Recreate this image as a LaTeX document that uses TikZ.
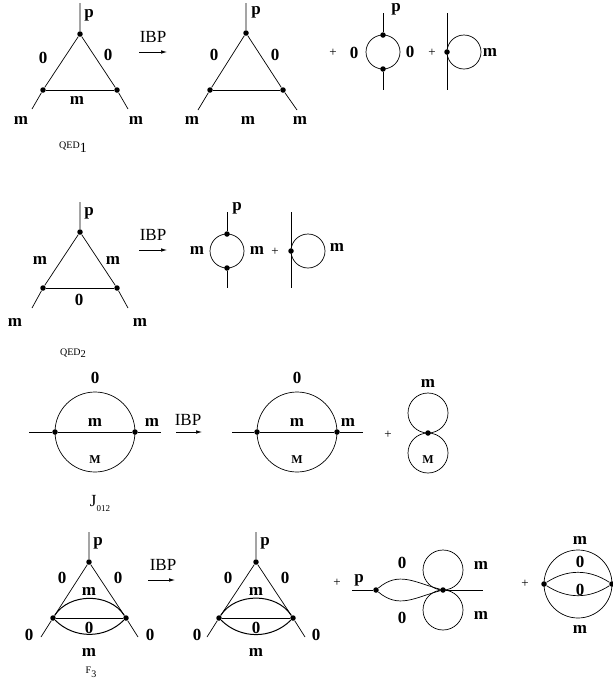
\documentclass[tikz,border=0pt]{standalone}
\usepackage{fontspec}
\setmainfont{Liberation Serif}
\usepackage{tikz}
\usetikzlibrary{arrows.meta}

\begin{document}
\begin{tikzpicture}[x=1pt,y=1pt,line width=0.7pt,
  dot/.style={circle,fill,inner sep=0pt,minimum size=5.5pt},
  lbl/.style={inner sep=0pt,font=\fontsize{17}{19}\selectfont\bfseries},
  smallM/.style={inner sep=0pt,font=\fontsize{12}{14}\selectfont\bfseries},
  txt/.style={inner sep=0pt,font=\fontsize{17}{19}\selectfont},
  pl/.style={inner sep=0pt,font=\fontsize{13}{15}\selectfont},
  ibp/.style={-{Latex[length=6pt,width=3.5pt]},line width=0.6pt}]
\useasboundingbox (0,0) rectangle (613,-686);

% QED_1
\coordinate (a1p) at (80,-3);
\node[dot] (a1t) at (80,-34) {};
\node[dot] (a1l) at (43,-90) {};
\node[dot] (a1r) at (117,-90) {};
\coordinate (a1ll) at (32,-109);
\coordinate (a1rr) at (128,-109);
\draw (a1p) -- (a1t) -- (a1l) -- (a1ll);
\draw (a1t) -- (a1r) -- (a1rr);
\draw (a1l) -- (a1r);
\node[lbl] (a1lp) at (89,-15) {p};
\node[lbl] (a1la) at (43,-58) {0};
\node[lbl] (a1lb) at (108,-55) {0};
\node[lbl] (a1lc) at (77,-100) {m};
\node[lbl] (a1ld) at (21,-120) {m};
\node[lbl] (a1le) at (136,-120) {m};
\node[inner sep=0pt] (q1) at (73,-147) {{\fontsize{10}{12}\selectfont QED}\raisebox{-4pt}{\fontsize{14}{16}\selectfont 1}};

\node[txt] (i1) at (153,-37) {IBP};
\coordinate (i1a) at (139,-52);
\coordinate (i1b) at (167,-52);
\draw[ibp] (i1a) -- (i1b);

\coordinate (b1p) at (246,-3);
\node[dot] (b1t) at (246,-33) {};
\node[dot] (b1l) at (210,-90) {};
\node[dot] (b1r) at (283,-90) {};
\coordinate (b1ll) at (198,-110);
\coordinate (b1rr) at (297,-110);
\draw (b1p) -- (b1t) -- (b1l) -- (b1ll);
\draw (b1t) -- (b1r) -- (b1rr);
\draw (b1l) -- (b1r);
\node[lbl] (b1lp) at (256,-12) {p};
\node[lbl] (b1la) at (214,-55) {0};
\node[lbl] (b1lb) at (275,-55) {0};
\node[lbl] (b1lc) at (192,-120) {m};
\node[lbl] (b1ld) at (248,-120) {m};
\node[lbl] (b1le) at (300,-120) {m};

\node[pl] (s1) at (333,-53) {+};
\node[lbl] (c1la) at (354,-53) {0};
\coordinate (c1c) at (383,-52);
\draw (c1c) circle[radius=17pt];
\coordinate (c1p) at (383,-13);
\coordinate (c1q) at (383,-90);
\node[dot] (c1t) at (383,-35) {};
\node[dot] (c1b) at (383,-69) {};
\draw (c1p) -- (c1t);
\draw (c1b) -- (c1q);
\node[lbl] (c1lp) at (396,-9) {p};
\node[lbl] (c1lb) at (410,-52) {0};
\node[pl] (s2) at (432,-53) {+};
\coordinate (d1p) at (447,-13);
\coordinate (d1q) at (447,-90);
\node[dot] (d1v) at (447,-52) {};
\draw (d1p) -- (d1v) -- (d1q);
\coordinate (d1c) at (464,-52);
\draw (d1c) circle[radius=17pt];
\node[lbl] (d1lm) at (490,-52) {m};

% QED_2
\coordinate (a2p) at (80,-202);
\node[dot] (a2t) at (80,-232) {};
\node[dot] (a2l) at (43,-288) {};
\node[dot] (a2r) at (117,-288) {};
\coordinate (a2ll) at (32,-308);
\coordinate (a2rr) at (128,-308);
\draw (a2p) -- (a2t) -- (a2l) -- (a2ll);
\draw (a2t) -- (a2r) -- (a2rr);
\draw (a2l) -- (a2r);
\node[lbl] (a2lp) at (89,-213) {p};
\node[lbl] (a2la) at (40,-260) {m};
\node[lbl] (a2lb) at (113,-260) {m};
\node[lbl] (a2lc) at (79,-300) {0};
\node[lbl] (a2ld) at (15,-322) {m};
\node[lbl] (a2le) at (140,-322) {m};
\node[inner sep=0pt] (q2) at (73,-353) {{\fontsize{10}{12}\selectfont QED}\raisebox{-1.5pt}{\fontsize{10.5}{12}\selectfont 2}};

\node[txt] (i2) at (153,-235) {IBP};
\coordinate (i2a) at (139,-250);
\coordinate (i2b) at (167,-250);
\draw[ibp] (i2a) -- (i2b);

\node[lbl] (c2la) at (197,-250) {m};
\coordinate (c2c) at (227,-251);
\draw (c2c) circle[radius=17pt];
\coordinate (c2p) at (227,-212);
\coordinate (c2q) at (227,-288);
\node[dot] (c2t) at (227,-234) {};
\node[dot] (c2b) at (227,-268) {};
\draw (c2p) -- (c2t);
\draw (c2b) -- (c2q);
\node[lbl] (c2lp) at (237,-208) {p};
\node[lbl] (c2lb) at (257,-250) {m};
\node[pl] (s3) at (275,-252) {+};
\coordinate (d2p) at (291,-212);
\coordinate (d2q) at (291,-288);
\node[dot] (d2v) at (291,-251) {};
\draw (d2p) -- (d2v) -- (d2q);
\coordinate (d2c) at (308,-251);
\draw (d2c) circle[radius=17pt];
\node[lbl] (d2lm) at (337,-247) {m};

% J_012
\coordinate (a3c) at (95,-432);
\draw (a3c) circle[radius=40pt];
\coordinate (a3a) at (29,-432);
\coordinate (a3b) at (161,-432);
\node[dot] (a3l) at (55,-432) {};
\node[dot] (a3r) at (135,-432) {};
\draw (a3a) -- (a3l) -- (a3r) -- (a3b);
\node[lbl] (a3la) at (95,-378) {0};
\node[lbl] (a3lb) at (95,-422) {m};
\node[smallM] (a3lc) at (95,-460) {M};
\node[lbl] (a3ld) at (152,-422) {m};
\node[inner sep=0pt] (j3) at (100,-503) {{\fontsize{17}{19}\selectfont J}\raisebox{-5pt}{\fontsize{9}{11}\selectfont 012}};

\node[txt] (i3) at (188,-420) {IBP};
\coordinate (i3a) at (176,-432);
\coordinate (i3b) at (202,-432);
\draw[ibp] (i3a) -- (i3b);

\coordinate (b3c) at (297,-432);
\draw (b3c) circle[radius=40pt];
\coordinate (b3a) at (232,-432);
\coordinate (b3b) at (363,-432);
\node[dot] (b3l) at (257,-432) {};
\node[dot] (b3r) at (337,-432) {};
\draw (b3a) -- (b3l) -- (b3r) -- (b3b);
\node[lbl] (b3la) at (297,-378) {0};
\node[lbl] (b3lb) at (297,-422) {m};
\node[smallM] (b3lc) at (297,-460) {M};
\node[lbl] (b3ld) at (348,-422) {m};

\node[pl] (s4) at (388,-435) {+};
\coordinate (c3u) at (428,-413);
\coordinate (c3d) at (428,-453);
\draw (c3u) circle[radius=20pt];
\draw (c3d) circle[radius=20pt];
\node[dot] (c3v) at (428,-433) {};
\node[lbl] (c3la) at (428,-383) {m};
\node[smallM] (c3lb) at (428,-460) {M};

% F_3
\coordinate (a4p) at (89,-532);
\node[dot] (a4t) at (89,-562) {};
\node[dot] (a4l) at (53,-618) {};
\node[dot] (a4r) at (126,-618) {};
\coordinate (a4ll) at (41,-637);
\coordinate (a4rr) at (138,-637);
\draw (a4p) -- (a4t) -- (a4l) -- (a4ll);
\draw (a4t) -- (a4r) -- (a4rr);
\draw (a4l) -- (a4r);
\draw[line width=1pt] (a4l) to[bend left=57] (a4r);
\draw[line width=1pt] (a4l) to[bend right=45] (a4r);
\node[lbl] (a4lp) at (98,-543) {p};
\node[lbl] (a4la) at (62,-578) {0};
\node[lbl] (a4lb) at (118,-578) {0};
\node[lbl] (a4lc) at (89,-591) {m};
\node[lbl] (a4ld) at (89,-628) {0};
\node[lbl] (a4le) at (89,-652) {m};
\node[lbl] (a4lf) at (29,-635) {0};
\node[lbl] (a4lg) at (150,-635) {0};
\node[inner sep=0pt] (f3) at (91,-672) {{\fontsize{10}{12}\selectfont F}\raisebox{-4pt}{\fontsize{10}{12}\selectfont 3}};

\node[txt] (i4) at (163,-565) {IBP};
\coordinate (i4a) at (148,-580);
\coordinate (i4b) at (175,-580);
\draw[ibp] (i4a) -- (i4b);

\coordinate (b4p) at (256,-532);
\node[dot] (b4t) at (256,-562) {};
\node[dot] (b4l) at (219,-618) {};
\node[dot] (b4r) at (293,-618) {};
\coordinate (b4ll) at (207,-637);
\coordinate (b4rr) at (305,-637);
\draw (b4p) -- (b4t) -- (b4l) -- (b4ll);
\draw (b4t) -- (b4r) -- (b4rr);
\draw (b4l) -- (b4r);
\draw[line width=1pt] (b4l) to[bend left=57] (b4r);
\draw[line width=1pt] (b4l) to[bend right=45] (b4r);
\node[lbl] (b4lp) at (265,-543) {p};
\node[lbl] (b4la) at (228,-578) {0};
\node[lbl] (b4lb) at (285,-578) {0};
\node[lbl] (b4lc) at (256,-591) {m};
\node[lbl] (b4ld) at (256,-628) {0};
\node[lbl] (b4le) at (256,-652) {m};
\node[lbl] (b4lf) at (197,-635) {0};
\node[lbl] (b4lg) at (316,-635) {0};

\node[pl] (s5) at (337,-583) {+};
\coordinate (c4a) at (352,-590);
\coordinate (c4b) at (483,-590);
\node[dot] (c4l) at (376,-590) {};
\node[dot] (c4r) at (443,-590) {};
\draw (c4a) -- (c4l);
\draw (c4r) -- (c4b);
\draw (c4l) to[out=40,in=165,looseness=1.1] (c4r);
\draw (c4l) to[out=-40,in=-165,looseness=1.1] (c4r);
\coordinate (c4u) at (443,-570);
\coordinate (c4d) at (443,-610);
\draw (c4u) circle[radius=20pt];
\draw (c4d) circle[radius=20pt];
\node[lbl] (c4lp) at (359,-580) {p};
\node[lbl] (c4la) at (402,-563) {0};
\node[lbl] (c4lb) at (402,-618) {0};
\node[lbl] (c4lc) at (481,-565) {m};
\node[lbl] (c4ld) at (481,-615) {m};

\node[pl] (s6) at (525,-584) {+};
\coordinate (d4c) at (578,-584);
\draw (d4c) circle[radius=34pt];
\node[dot] (d4l) at (544,-584) {};
\node[dot] (d4r) at (612,-584) {};
\draw (d4l) to[bend left=33] (d4r);
\draw (d4l) to[bend right=33] (d4r);
\node[lbl] (d4la) at (580,-540) {m};
\node[lbl] (d4lb) at (580,-562) {0};
\node[lbl] (d4lc) at (580,-590) {0};
\node[lbl] (d4ld) at (580,-629) {m};
\end{tikzpicture}
\end{document}
